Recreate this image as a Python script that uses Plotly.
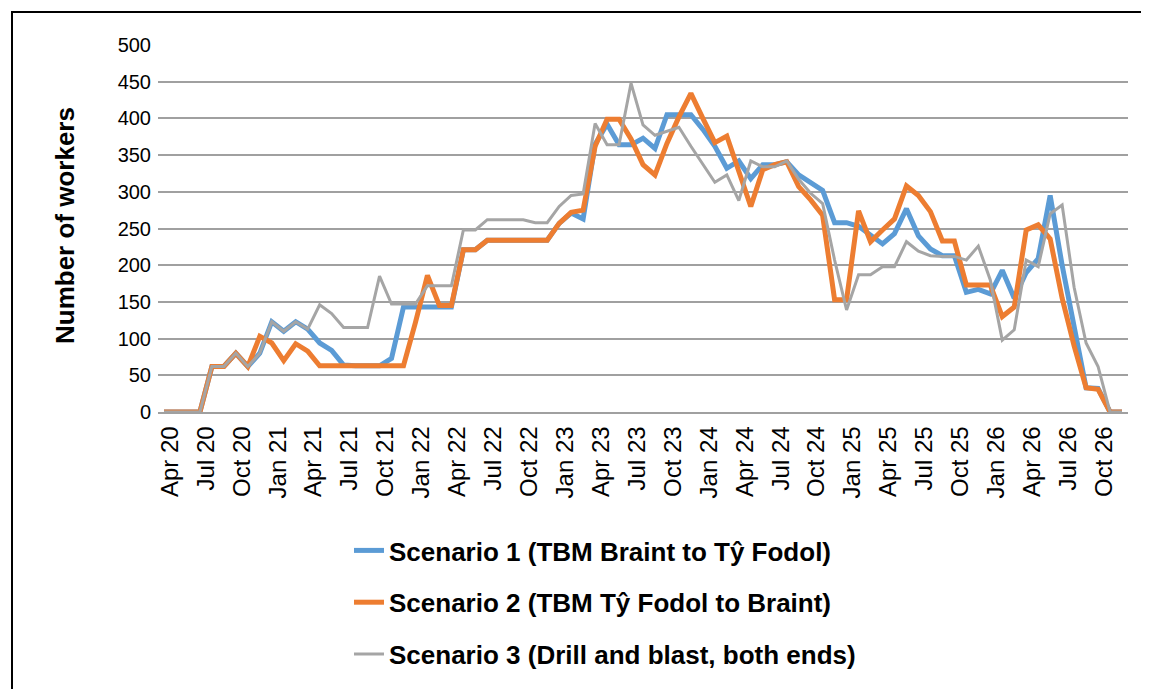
import plotly.graph_objects as go

# Month categories (Apr 2020 .. Dec 2026)
month_names = ["Jan", "Feb", "Mar", "Apr", "May", "Jun", "Jul", "Aug", "Sep", "Oct", "Nov", "Dec"]
months = []
for yr in range(20, 27):
    for m in month_names:
        months.append(f"{m} {yr}")
months = months[months.index("Apr 20"):months.index("Dec 26") + 1]

tick_labels = ["Apr 20", "Jul 20", "Oct 20", "Jan 21", "Apr 21", "Jul 21", "Oct 21",
               "Jan 22", "Apr 22", "Jul 22", "Oct 22", "Jan 23", "Apr 23", "Jul 23",
               "Oct 23", "Jan 24", "Apr 24", "Jul 24", "Oct 24", "Jan 25", "Apr 25",
               "Jul 25", "Oct 25", "Jan 26", "Apr 26", "Jul 26", "Oct 26"]

scenario1 = [0, 0, 0, 0, 62, 62, 80, 62, 80, 123, 110, 123, 113, 94, 84, 64, 63, 63, 63, 73,
             143, 143, 143, 143, 143, 221, 221, 234, 234, 234, 234, 234, 234, 257, 271, 263,
             365, 392, 364, 364, 373, 359, 405, 405, 405, 385, 362, 332, 342, 318, 337, 337,
             341, 323, 313, 302, 258, 258, 253, 241, 229, 243, 277, 240, 222, 213, 213, 163,
             167, 161, 193, 155, 190, 209, 295, 200, 118, 33, 32, 0, 0]

scenario2 = [0, 0, 0, 0, 62, 62, 80, 62, 103, 94, 70, 93, 83, 63, 63, 63, 63, 63, 63, 63,
             63, 122, 186, 145, 145, 221, 221, 234, 234, 234, 234, 234, 234, 257, 272, 275,
             362, 399, 399, 372, 337, 323, 366, 402, 434, 400, 367, 376, 328, 280, 330, 337,
             341, 307, 289, 268, 153, 153, 274, 232, 248, 263, 308, 295, 273, 233, 233, 173,
             173, 173, 130, 143, 248, 255, 236, 155, 90, 33, 31, 0, 0]

scenario3 = [0, 0, 0, 0, 62, 62, 80, 62, 80, 123, 110, 123, 113, 146, 134, 115, 115, 115, 185, 147,
             147, 147, 172, 172, 172, 248, 248, 262, 262, 262, 262, 258, 258, 280, 295, 297,
             393, 364, 364, 448, 391, 377, 382, 388, 362, 338, 313, 323, 288, 342, 334, 334,
             342, 317, 298, 284, 207, 139, 187, 187, 198, 198, 232, 219, 213, 212, 212, 207,
             226, 180, 98, 112, 207, 198, 270, 282, 170, 94, 62, 0, 0]

names = ["Scenario 1 (TBM Braint to Tŷ Fodol)",
         "Scenario 2 (TBM Tŷ Fodol to Braint)",
         "Scenario 3 (Drill and blast, both ends)"]
y_title = "Number of workers"
colors = ["#5B9BD5", "#ED7D31", "#A5A5A5"]
widths = [5, 5, 3]

x_idx = list(range(len(months)))
tick_pos = [months.index(t) + 0.5 for t in tick_labels]

fig = go.Figure()
for i, ys in enumerate([scenario1, scenario2, scenario3]):
    fig.add_trace(go.Scatter(
        x=x_idx, y=ys, mode="lines", name=names[i], legendgroup=f"g{i}",
        customdata=months, hovertemplate="%{customdata}: %{y}<extra></extra>",
        line=dict(color=colors[i], width=widths[i]),
    ))

# The page adds an 8 px body margin, so the figure is laid out 8 px up/left
OFF = 8
W, H = 1149 - OFF, 689 - OFF
L, T = 158 - OFF, 45 - OFF
R = W - (1128 - OFF)
B = H - (412 - OFF)
pw, ph = W - L - R, H - T - B

def px_x(p):
    return (p - OFF - L) / pw

def px_y(p):
    return 1 - (p - OFF - T) / ph

fig.update_layout(
    width=W, height=H,
    margin=dict(l=L, r=R, t=T, b=B, autoexpand=False),
    paper_bgcolor="white", plot_bgcolor="white",
    font=dict(family="Liberation Sans, Arial, sans-serif", color="black"),
    showlegend=True,
    legend=dict(
        xref="container", yref="container",
        x=(389 - OFF - 40) / W, y=1 - (527 - OFF) / H,
        xanchor="left", yanchor="top",
        font=dict(size=26, family="Liberation Sans, Arial, sans-serif", weight="bold"),
        tracegroupgap=15, itemwidth=30, bgcolor="rgba(0,0,0,0)",
    ),
    xaxis=dict(
        range=[-0.5, len(months) - 0.5],
        tickmode="array", tickvals=tick_pos, ticktext=tick_labels,
        tickangle=-90, tickfont=dict(size=24), ticklabelstandoff=3,
        showgrid=False, zeroline=False,
        showline=True, linecolor="#A0A0A0", linewidth=1.5,
        ticks="",
    ),
    yaxis=dict(
        range=[0, 500], dtick=50, tick0=0,
        tickfont=dict(size=20), ticklabelstandoff=6,
        showgrid=True, gridcolor="#A0A0A0", gridwidth=1.5,
        zeroline=False, showline=False, ticks="",
    ),
    annotations=[dict(text=y_title, xref="paper", yref="paper",
                      x=px_x(65), y=px_y(226), xanchor="center", yanchor="middle",
                      textangle=-90, showarrow=False,
                      font=dict(size=26, weight="bold", color="black",
                                family="Liberation Sans, Arial, sans-serif"))],
    shapes=[dict(type="rect", xref="paper", yref="paper",
                 x0=px_x(12), x1=px_x(1146), y0=px_y(720), y1=px_y(12),
                 line=dict(color="black", width=2), fillcolor="rgba(0,0,0,0)", layer="below")],
)

fig.write_html("out.html")
